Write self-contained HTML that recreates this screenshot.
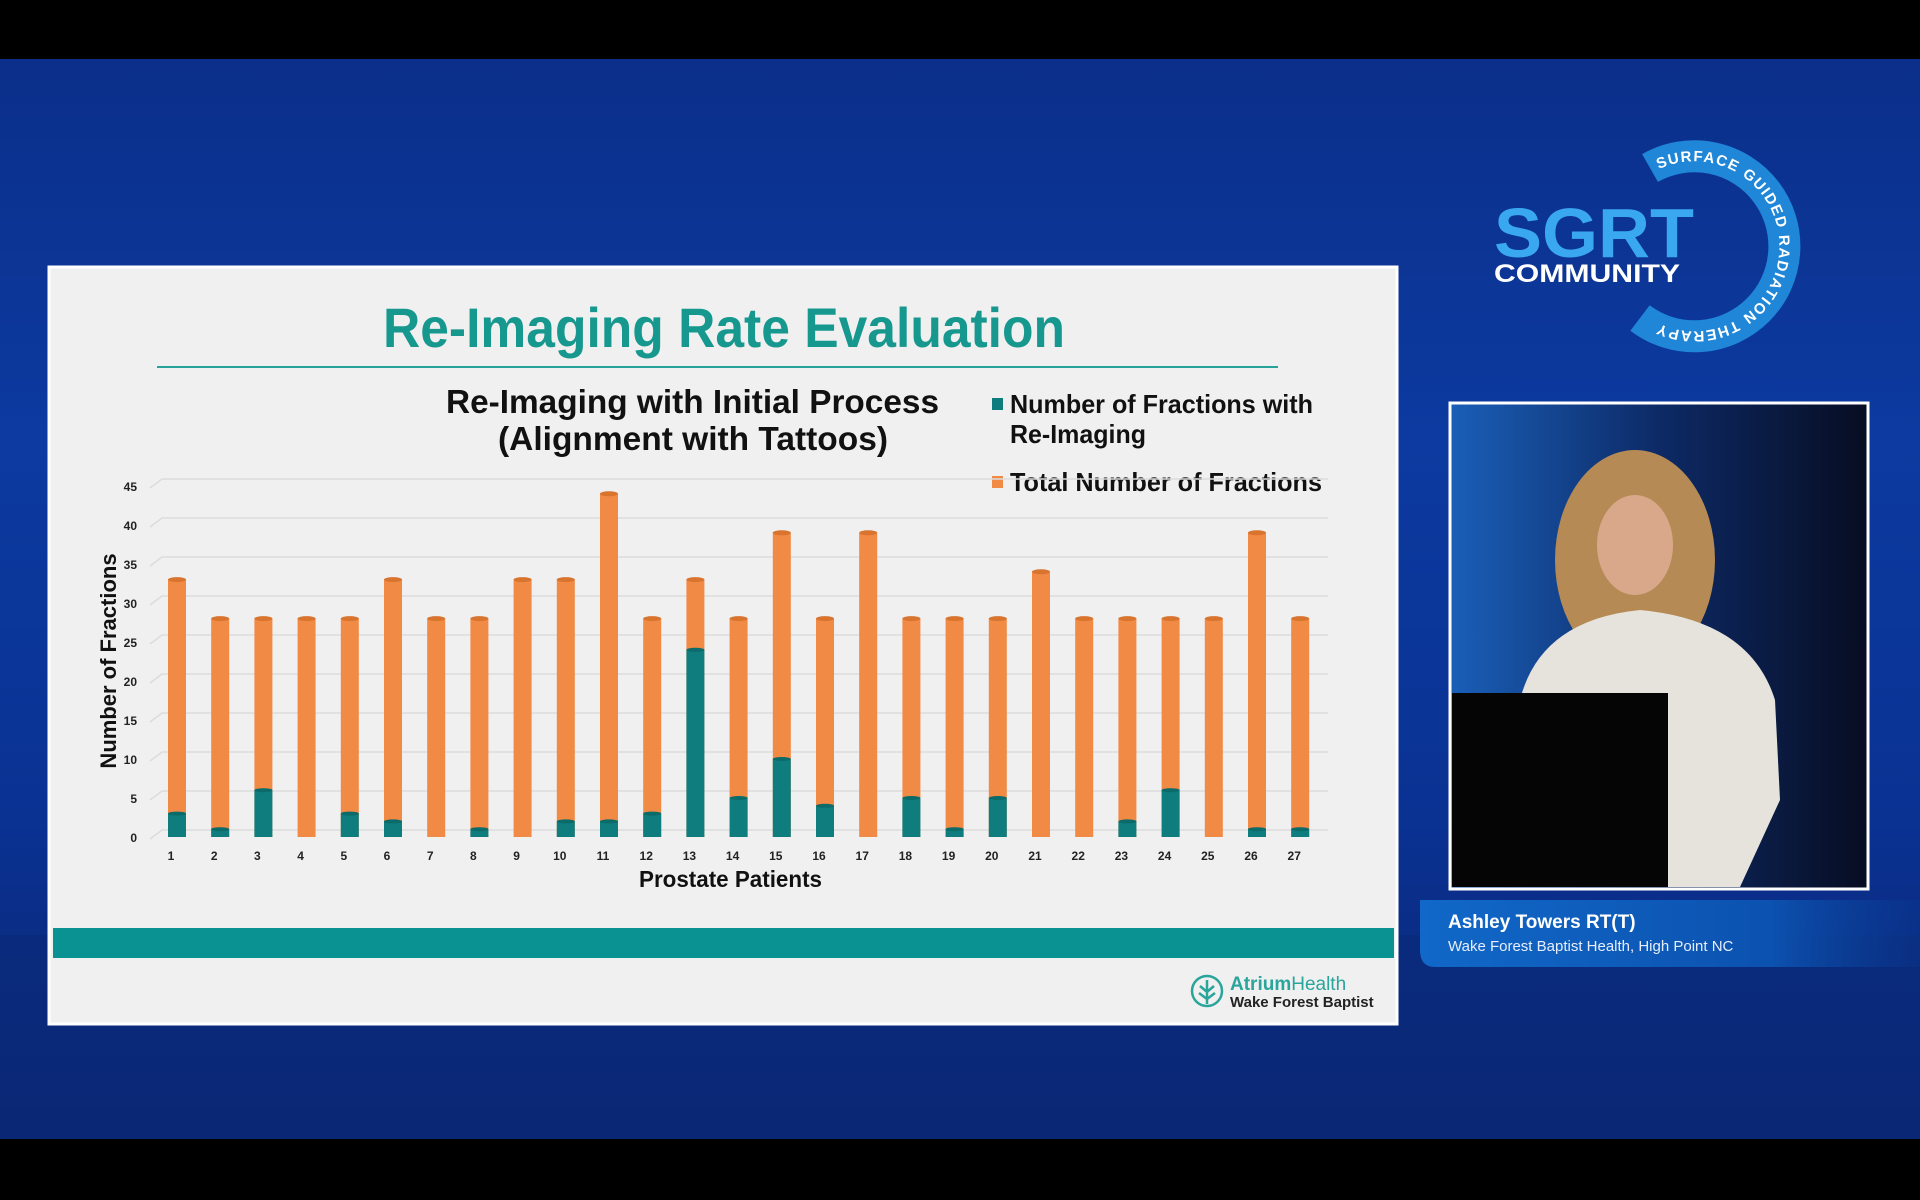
<!DOCTYPE html>
<html><head><meta charset="utf-8"><style>
html,body{margin:0;padding:0;background:#000;}
svg{display:block}
</style></head><body>
<svg width="1920" height="1200" viewBox="0 0 1920 1200" xmlns="http://www.w3.org/2000/svg" font-family="Liberation Sans, sans-serif">
<defs>
<linearGradient id="bg" x1="0" y1="0" x2="0" y2="1">
<stop offset="0" stop-color="#0b2f8a"/><stop offset="0.35" stop-color="#0c3aa0"/><stop offset="0.7" stop-color="#0a3293"/><stop offset="1" stop-color="#0a2470"/>
</linearGradient>
<linearGradient id="cam" x1="0" y1="0" x2="1" y2="0">
<stop offset="0" stop-color="#1a5fb8"/><stop offset="0.5" stop-color="#0d2a66"/><stop offset="1" stop-color="#070d22"/>
</linearGradient>
<linearGradient id="nb" x1="0" y1="0" x2="1" y2="0">
<stop offset="0" stop-color="#1168c8"/><stop offset="0.7" stop-color="#0c52b0"/><stop offset="1" stop-color="#0a3a90" stop-opacity="0.3"/>
</linearGradient>
<path id="ring" d="M1650 168 A90 90 0 1 1 1640 318"/>
</defs>
<rect width="1920" height="1200" fill="#000"/>
<rect y="59" width="1920" height="1080" fill="url(#bg)"/>
<rect y="935" width="1920" height="204" fill="#0a2a78" opacity="0.6"/>
<!-- slide -->
<rect x="49" y="267" width="1348" height="757" fill="#f0f0f0" stroke="#fff" stroke-width="3"/>
<text x="383" y="347" textLength="682" lengthAdjust="spacingAndGlyphs" font-size="56" font-weight="bold" fill="#17988f">Re-Imaging Rate Evaluation</text>
<rect x="157" y="366" width="1121" height="2" fill="#27a39b"/>
<text x="446" y="413" textLength="493" lengthAdjust="spacingAndGlyphs" font-size="33" font-weight="bold" fill="#111">Re-Imaging with Initial Process</text>
<text x="498" y="450" textLength="390" lengthAdjust="spacingAndGlyphs" font-size="33" font-weight="bold" fill="#111">(Alignment with Tattoos)</text>
<rect x="992" y="398" width="11" height="12" fill="#0f7d7d"/>
<text x="1010" y="413" textLength="303" lengthAdjust="spacingAndGlyphs" font-size="26" font-weight="bold" fill="#111">Number of Fractions with</text>
<text x="1010" y="443" textLength="136" lengthAdjust="spacingAndGlyphs" font-size="26" font-weight="bold" fill="#111">Re-Imaging</text>
<rect x="992" y="476" width="11" height="12" fill="#f08a45"/>
<text x="1010" y="491" textLength="312" lengthAdjust="spacingAndGlyphs" font-size="26" font-weight="bold" fill="#111">Total Number of Fractions</text>
<g id="grid" stroke="#dcdcdc" stroke-width="1.5" fill="none"></g>
<g id="ticks" font-size="12" font-weight="bold" fill="#222" text-anchor="end"></g>
<g id="bars"></g>
<g id="xl" font-size="12" font-weight="bold" fill="#222" text-anchor="middle"></g>
<text x="639" y="887" textLength="183" lengthAdjust="spacingAndGlyphs" font-size="23" font-weight="bold" fill="#111">Prostate Patients</text>
<text transform="translate(116,661) rotate(-90)" text-anchor="middle" font-size="22" font-weight="bold" fill="#111">Number of Fractions</text>
<rect x="53" y="928" width="1341" height="30" fill="#0a9191"/>
<circle cx="1207" cy="991" r="15" fill="none" stroke="#2aa59b" stroke-width="2.5"/>
<path d="M1207 980 L1207 1004 M1200 986 L1207 992 L1214 986 M1199 993 L1207 999 L1215 993" stroke="#2aa59b" stroke-width="2.5" fill="none"/>
<text x="1230" y="990" font-size="19" fill="#2aa59b" font-weight="bold">Atrium<tspan font-weight="normal">Health</tspan></text>
<text x="1230" y="1007" font-size="15" fill="#222" font-weight="bold">Wake Forest Baptist</text>
<!-- SGRT logo -->
<path d="M1650 168 A90 90 0 1 1 1640 318" fill="none" stroke="#1f86d8" stroke-width="32"/>
<text font-size="15" font-weight="bold" fill="#fff" letter-spacing="2" dy="5"><textPath href="#ring" startOffset="2%">SURFACE GUIDED RADIATION THERAPY</textPath></text>
<text x="1494" y="257" textLength="200" lengthAdjust="spacingAndGlyphs" font-size="70" font-weight="bold" fill="#3aa8f0">SGRT</text>
<text x="1494" y="282" textLength="186" lengthAdjust="spacingAndGlyphs" font-size="25" font-weight="bold" fill="#fff">COMMUNITY</text>
<!-- webcam -->
<rect x="1450" y="403" width="418" height="486" fill="url(#cam)" stroke="#fff" stroke-width="3"/>
<ellipse cx="1635" cy="560" rx="80" ry="110" fill="#b58a55"/>
<ellipse cx="1635" cy="545" rx="38" ry="50" fill="#d9a88a"/>
<path d="M1520 700 Q1540 620 1640 610 Q1750 620 1775 700 L1780 800 L1740 887 L1520 887 Z" fill="#e6e2dc"/>
<rect x="1452" y="693" width="216" height="194" fill="#050505"/>
<path d="M1420 900 H1920 V967 H1435 Q1420 967 1420 950 Z" fill="url(#nb)"/>
<text x="1448" y="928" font-size="19" font-weight="bold" fill="#fff">Ashley Towers RT(T)</text>
<text x="1448" y="951" font-size="15" fill="#e6eefc">Wake Forest Baptist Health, High Point NC</text>
</svg>
<script>
var tot=[33,28,28,28,28,33,28,28,33,33,44,28,33,28,39,28,39,28,28,28,34,28,28,28,28,39,28];
var re=[3,1,6,0,3,2,0,1,0,2,2,3,24,5,10,4,0,5,1,5,0,0,2,6,0,1,1];
var ns="http://www.w3.org/2000/svg";
function el(p,t,a,txt){var e=document.createElementNS(ns,t);for(var k in a)e.setAttribute(k,a[k]);if(txt!=null)e.textContent=txt;document.getElementById(p).appendChild(e);}
var y0=837,u=7.8;
for(var i=0;i<=9;i++){var y=y0-i*5*u;el("grid","path",{d:"M150 "+(y+2)+" L162 "+(y-7)+" L1328 "+(y-7)});el("ticks","text",{x:137,y:y+5},String(i*5));}
for(var i=0;i<27;i++){var cx=177+i*43.2,w=18,x=cx-w/2;var yt=y0-tot[i]*u,yr=y0-re[i]*u;
el("bars","rect",{x:x,y:yt,width:w,height:y0-yt,fill:"#f08a45"});
el("bars","ellipse",{cx:cx,cy:yt,rx:w/2,ry:2.5,fill:"#d9742f"});
if(re[i]>0){el("bars","rect",{x:x,y:yr,width:w,height:y0-yr,fill:"#0f7d7d"});el("bars","ellipse",{cx:cx,cy:yr,rx:w/2,ry:2,fill:"#0b6a6a"});}
el("xl","text",{x:cx-6,y:860},String(i+1));}
</script>
</body></html>
